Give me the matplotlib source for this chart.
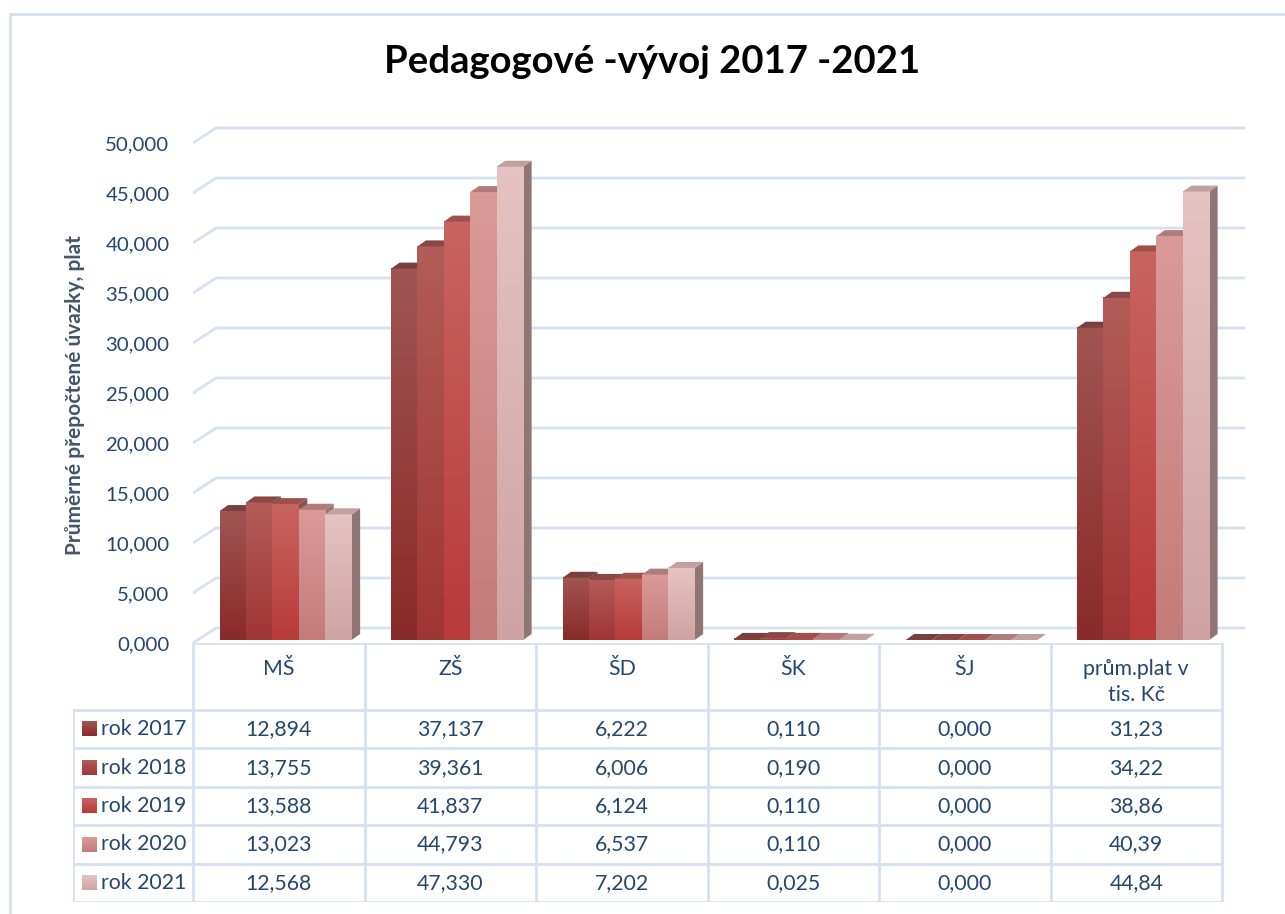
import matplotlib
matplotlib.use("Agg")
import matplotlib.pyplot as plt
import numpy as np
from matplotlib.patches import Polygon
from matplotlib.lines import Line2D

plt.rcParams["font.family"] = ["Lato", "DejaVu Sans"]

# data
categories = ["MŠ", "ZŠ", "ŠD", "ŠK", "ŠJ", "prům.plat v\ntis. Kč"]
series = ["rok 2017", "rok 2018", "rok 2019", "rok 2020", "rok 2021"]
ms = [12.894, 13.755, 13.588, 13.023, 12.568]
zs = [37.137, 39.361, 41.837, 44.793, 47.330]
sd = [6.222, 6.006, 6.124, 6.537, 7.202]
sk = [0.110, 0.190, 0.110, 0.110, 0.025]
sj = [0.000, 0.000, 0.000, 0.000, 0.000]
plat = [31.23, 34.22, 38.86, 40.39, 44.84]
decimals = [3, 3, 3, 3, 3, 2]
yticks = np.arange(0, 51, 5)

values = np.array([ms, zs, sd, sk, sj, plat])  # shape (category, series)

# styles
bottom_cols = ["#8A2A2A", "#A03535", "#B83A3A", "#C47C7A", "#CFA3A3"]
top_cols = ["#A05552", "#B25C58", "#C86460", "#DA9A98", "#E5C3C2"]
roof_cols = ["#7A403D", "#8C4744", "#A0504C", "#B07C7A", "#C2A09F"]
side_cols = ["#6E4545", "#7A4A4A", "#8A5050", "#957878", "#907575"]
grid_col = "#D5E1F1"
text_col = "#24466F"
fs_table = 15.3

W, H = 1285, 914
CW = 171.5            # px per category column
PX = 10.0             # px per unit on y
wall_dx, wall_dy = 23 / CW, 15 / PX
bar_dx, bar_dy = 8.5 / CW, 0.6
bar_w, bar_shift, bar_base = 0.154, 0.04, 0.3

fig = plt.figure(figsize=(W / 100, H / 100), dpi=100)

# outer chart border
fig.add_artist(Line2D([10 / W, 10 / W], [0, 1 - 14 / H], color=grid_col, lw=2))
fig.add_artist(Line2D([10 / W, 1], [1 - 14 / H, 1 - 14 / H], color=grid_col, lw=2))

x_left, x_right = -0.5, 5.5 + wall_dx
ax = fig.add_axes([193 / W, (H - 643) / H, (x_right - x_left) * CW / W, 52 * PX / H])
for s in ax.spines.values():
    s.set_visible(False)
ax.set_xticks([])
ax.set_yticks(yticks)
ax.set_yticklabels([f"{t:.3f}".replace(".", ",") for t in yticks])
ax.tick_params(axis="y", length=0, pad=17, labelsize=14.7, labelcolor=text_col)
ax.patch.set_alpha(0)

# back wall gridlines with the left wall diagonal
for t in yticks:
    ax.plot([x_left, x_left + wall_dx, 5.5 + wall_dx], [t, t + wall_dy, t + wall_dy],
            color=grid_col, lw=2, zorder=1, solid_capstyle="butt")

grad = np.linspace(0, 1, 64).reshape(-1, 1)
z = 2
for i in range(len(categories)):
    for j in range(len(series)):
        v = values[i, j]
        x0 = i + bar_shift + (j - 2.5) * bar_w
        x1 = x0 + bar_w
        y0, y1 = bar_base, bar_base + v
        # side face
        ax.add_patch(Polygon([(x1, y0), (x1 + bar_dx, y0 + bar_dy), (x1 + bar_dx, y1 + bar_dy), (x1, y1)],
                             closed=True, facecolor=side_cols[j], edgecolor="none", zorder=z))
        # front face with a vertical gradient
        ax.bar(x0, v, width=bar_w, bottom=y0, align="edge", color=bottom_cols[j],
               edgecolor="none", zorder=z + 1)
        if v > 0:
            c0 = np.array(matplotlib.colors.to_rgb(bottom_cols[j]))
            c1 = np.array(matplotlib.colors.to_rgb(top_cols[j]))
            img = c0 + grad * (c1 - c0)
            ax.imshow(img[:, None, :].repeat(2, axis=1), extent=[x0, x1, y0, y1], origin="lower",
                      aspect="auto", interpolation="bilinear", zorder=z + 1.5)
        # top face
        ax.add_patch(Polygon([(x0, y1), (x0 + bar_dx, y1 + bar_dy), (x1 + bar_dx, y1 + bar_dy), (x1, y1)],
                             closed=True, facecolor=roof_cols[j], edgecolor="none", zorder=z + 2))
        z += 3

ax.set_xlim(x_left, x_right)
ax.set_ylim(0, 52)

# data table under the chart
leg_w = 120 / CW
hdr_h = 67 / 38.4
tax = fig.add_axes([73 / W, (H - 902) / H, (x_right - x_left + leg_w) * CW / W, 259 / H])
tax.axis("off")

lk = dict(color=grid_col, lw=2, solid_capstyle="projecting")
tax.plot([x_left, 5.5], [0, 0], **lk)
for k in range(6):
    tax.plot([x_left - leg_w, 5.5], [hdr_h + k, hdr_h + k], **lk)
for i in range(7):
    tax.plot([x_left + i, x_left + i], [0, hdr_h + 5], **lk)
tax.plot([x_left - leg_w, x_left - leg_w], [hdr_h, hdr_h + 5], **lk)

for i, c in enumerate(categories):
    tax.text(i, 0.42, c, ha="center", va="top", fontsize=fs_table, color=text_col, linespacing=1.35)
for j, s in enumerate(series):
    yc = hdr_h + j + 0.5
    for i in range(len(categories)):
        tax.text(i, yc, f"{values[i, j]:.{decimals[i]}f}".replace(".", ","), ha="center", va="center",
                 fontsize=fs_table, color=text_col)
    sq_x = x_left - leg_w + 9 / CW
    c0 = np.array(matplotlib.colors.to_rgb(bottom_cols[j]))
    c1 = np.array(matplotlib.colors.to_rgb(top_cols[j]))
    img = c1 + grad * (c0 - c1)
    tax.imshow(img[:, None, :].repeat(2, axis=1), extent=[sq_x, sq_x + 14 / CW, yc + 0.19, yc - 0.19],
               origin="upper", aspect="auto", interpolation="bilinear", zorder=3)
    tax.text(sq_x + 19 / CW, yc, s, ha="left", va="center", fontsize=fs_table, color=text_col)
tax.set_xlim(x_left - leg_w, x_right)
tax.set_ylim(hdr_h + 5, 0)

fig.text(75 / W, 1 - 395 / H, "Průměrné přepočtené úvazky, plat", rotation=90, ha="center", va="center",
         fontsize=15, fontweight="bold", color="#44546A")
fig.text(652 / W, 1 - 62 / H, "Pedagogové -vývoj 2017 -2021", ha="center", va="center",
         fontsize=27.5, fontweight="bold", color="black")

fig.savefig("out.png", dpi=100)
